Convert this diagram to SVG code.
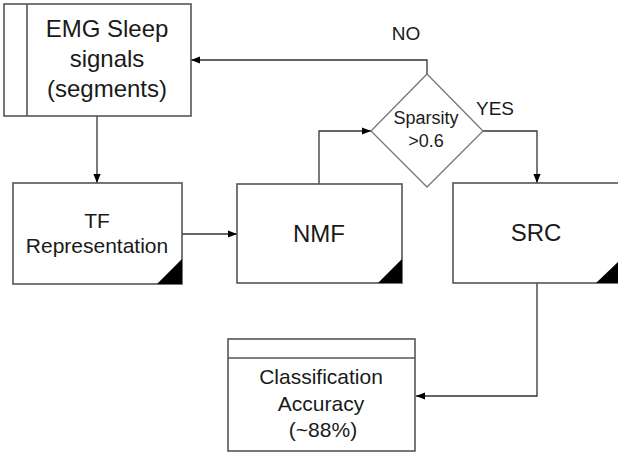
<svg xmlns="http://www.w3.org/2000/svg" width="618" height="456" viewBox="0 0 618 456">
  <defs>
    <style>
      .box { fill: #ffffff; stroke: #555555; stroke-width: 1.6; }
      .dia { fill: #ffffff; stroke: #777777; stroke-width: 1.3; }
      .corner { fill: #000000; stroke: none; }
      .lbl { font-family: "Liberation Sans", Arial, sans-serif; fill: #1a1a1a; text-anchor: middle; }
      .conn { fill: none; stroke: #333333; stroke-width: 1.3; }
    </style>
    <marker id="arr" viewBox="0 0 10 10" refX="10" refY="5" markerWidth="9" markerHeight="9" markerUnits="userSpaceOnUse" orient="auto">
      <path d="M0,1 L10,5 L0,9 Z" fill="#000000"/>
    </marker>
  </defs>
  <rect width="618" height="456" fill="#ffffff"/>

  <g id="connectors">
    <path class="conn" d="M97,116 L97,183" marker-end="url(#arr)"/>
    <path class="conn" d="M182,234 L237,234" marker-end="url(#arr)"/>
    <path class="conn" d="M319,184 L319,131 L371,131" marker-end="url(#arr)"/>
    <path class="conn" d="M427,74 L427,60 L191,60" marker-end="url(#arr)"/>
    <path class="conn" d="M483,131 L537,131 L537,183" marker-end="url(#arr)"/>
    <path class="conn" d="M537,283 L537,396 L416,396" marker-end="url(#arr)"/>
  </g>

  <g id="emg">
    <rect class="box" x="4" y="4" width="187" height="112"/>
    <line class="box" x1="27" y1="4" x2="27" y2="116"/>
    <text class="lbl" x="107" y="37" font-size="24">EMG Sleep</text>
    <text class="lbl" x="107" y="67" font-size="24">signals</text>
    <text class="lbl" x="107" y="97" font-size="24">(segments)</text>
  </g>

  <g id="tf">
    <rect class="box" x="13" y="183" width="169" height="101"/>
    <path class="corner" d="M182,259 L182,284 L157,284 Z"/>
    <text class="lbl" x="97" y="228" font-size="21">TF</text>
    <text class="lbl" x="97" y="253" font-size="21">Representation</text>
  </g>

  <g id="nmf">
    <rect class="box" x="237" y="184" width="165" height="99"/>
    <path class="corner" d="M402,259 L402,283 L378,283 Z"/>
    <text class="lbl" x="319" y="242" font-size="24">NMF</text>
  </g>

  <g id="sparsity">
    <polygon class="dia" points="427,74 483,131 427,187 371,131"/>
    <text class="lbl" x="426" y="124" font-size="18">Sparsity</text>
    <text class="lbl" x="426" y="147" font-size="18">&gt;0.6</text>
  </g>

  <g id="src">
    <rect class="box" x="453" y="183" width="168" height="100"/>
    <path class="corner" d="M621,259 L621,283 L596,283 Z"/>
    <text class="lbl" x="536" y="241" font-size="24">SRC</text>
  </g>

  <g id="classification">
    <rect class="box" x="228" y="339" width="187" height="112"/>
    <line class="box" x1="228" y1="358" x2="415" y2="358"/>
    <text class="lbl" x="321" y="384" font-size="21">Classification</text>
    <text class="lbl" x="321" y="411" font-size="21">Accuracy</text>
    <text class="lbl" x="323" y="437" font-size="21">(~88%)</text>
  </g>

  <g id="edge-labels">
    <text class="lbl" x="406" y="40" font-size="19">NO</text>
    <text class="lbl" x="495" y="115" font-size="19">YES</text>
  </g>
</svg>
